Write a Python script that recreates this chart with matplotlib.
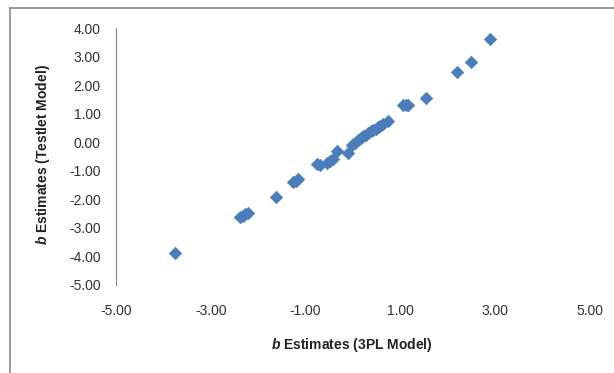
import matplotlib
matplotlib.use("Agg")
import matplotlib.pyplot as plt
from matplotlib.lines import Line2D

plt.rcParams['font.family'] = 'Liberation Sans'
plt.rcParams['mathtext.fontset'] = 'custom'
plt.rcParams['mathtext.it'] = 'Liberation Sans:bold:italic'
plt.rcParams['mathtext.rm'] = 'Liberation Sans:bold'

# b estimates: 3PL model vs testlet model
b_3pl = [-3.76, -2.38, -2.33, -2.27, -2.21, -1.62, -1.27, -1.20, -1.15,
         -0.76, -0.70, -0.55, -0.48, -0.42, -0.34, -0.11, -0.02, 0.04,
         0.10, 0.16, 0.21, 0.27, 0.32, 0.37, 0.42, 0.48, 0.53, 0.58,
         0.63, 0.74, 1.06, 1.11, 1.16, 1.54, 2.19, 2.48, 2.90]
b_testlet = [-3.87, -2.62, -2.58, -2.53, -2.48, -1.93, -1.40, -1.35, -1.30,
             -0.78, -0.80, -0.72, -0.66, -0.58, -0.31, -0.36, -0.10, -0.02,
             0.08, 0.14, 0.22, 0.26, 0.32, 0.38, 0.43, 0.48, 0.53, 0.58,
             0.64, 0.74, 1.29, 1.29, 1.29, 1.56, 2.45, 2.80, 3.60]

x_ticks = [-5, -3, -1, 1, 3, 5]
y_ticks = [4, 3, 2, 1, 0, -1, -2, -3, -4, -5]

fig = plt.figure(figsize=(6.14, 3.73), dpi=100)
ax = fig.add_axes([116 / 614, 1 - 285 / 373, 474 / 614, 257 / 373])

ax.scatter(b_3pl, b_testlet, marker='D', s=40, color='#4A7EBB',
           edgecolors='#4A7EBB', linewidths=0.5, zorder=3)

ax.set_xlim(-5, 5)
ax.set_ylim(-5, 4)
ax.set_xticks(x_ticks)
ax.set_yticks(y_ticks)
ax.set_xticklabels([f"{v:.2f}" for v in x_ticks])
ax.set_yticklabels([f"{v:.2f}" for v in y_ticks])
ax.tick_params(axis='both', length=0, labelsize=10, colors='#333333')
ax.tick_params(axis='x', pad=14)
ax.tick_params(axis='y', pad=11)

for side in ['top', 'right', 'bottom']:
    ax.spines[side].set_visible(False)
ax.spines['left'].set_color('#868686')
ax.spines['left'].set_linewidth(0.8)

fig.text(352 / 614, 1 - 345 / 373, r"$b$ Estimates (3PL Model)",
         ha='center', va='center', fontsize=10, fontweight='bold', color='#222222')
fig.text(43 / 614, 1 - 155 / 373, r"$b$ Estimates (Testlet Model)",
         ha='center', va='center', rotation=90, fontsize=10,
         fontweight='bold', color='#222222')

# outer chart frame (only top and left edges show)
fig.add_artist(Line2D([10 / 614, 10 / 614], [0, 1 - 8 / 373],
                      transform=fig.transFigure, color='#8a8a8a', lw=1.2))
fig.add_artist(Line2D([10 / 614, 1], [1 - 8 / 373, 1 - 8 / 373],
                      transform=fig.transFigure, color='#8a8a8a', lw=1.2))

fig.savefig("out.png", dpi=100)
